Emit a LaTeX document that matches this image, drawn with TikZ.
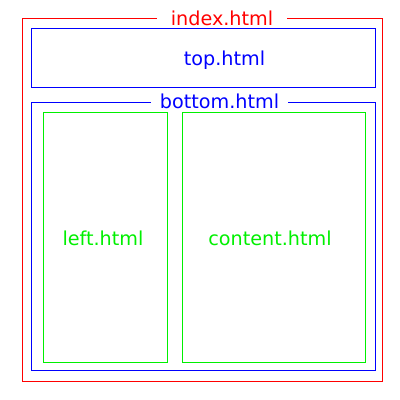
\documentclass[tikz,border=0pt]{standalone}
\usepackage{fontspec}
\setmainfont{DejaVu Sans}
\definecolor{fred}{RGB}{255,0,0}
\definecolor{fblue}{RGB}{0,0,255}
\definecolor{fgreen}{RGB}{0,240,0}
\tikzset{
  frame/.style={line width=1pt},
  lbl/.style={font=\fontsize{19.2}{22}\selectfont, inner sep=0pt, anchor=base},
  gaplbl/.style={lbl, fill=white}
}
\begin{document}
\begin{tikzpicture}[x=1pt,y=-1pt]
\useasboundingbox[fill=white] (0,0) rectangle (400,400);
% index.html
\draw[frame, fred] (22.5,18.5) rectangle (382.5,381.5);
\node[gaplbl, text=fred, inner xsep=14pt] (index) at (222,25) {index.html};
% top.html
\draw[frame, fblue] (31.5,28.5) rectangle (375.5,87.5);
\node[lbl, text=fblue] (top) at (224.5,65) {top.html};
% bottom.html
\draw[frame, fblue] (31.5,102.5) rectangle (375.5,370.5);
\node[gaplbl, text=fblue, inner xsep=8.5pt] (bottom) at (219.5,108) {bottom.html};
% left.html
\draw[frame, fgreen] (43.5,112.5) rectangle (167.5,362.5);
\node[lbl, text=fgreen] (left) at (103,245) {left.html};
% content.html
\draw[frame, fgreen] (182.5,112.5) rectangle (365.5,362.5);
\node[lbl, text=fgreen] (content) at (270,245) {content.html};
\end{tikzpicture}
\end{document}
